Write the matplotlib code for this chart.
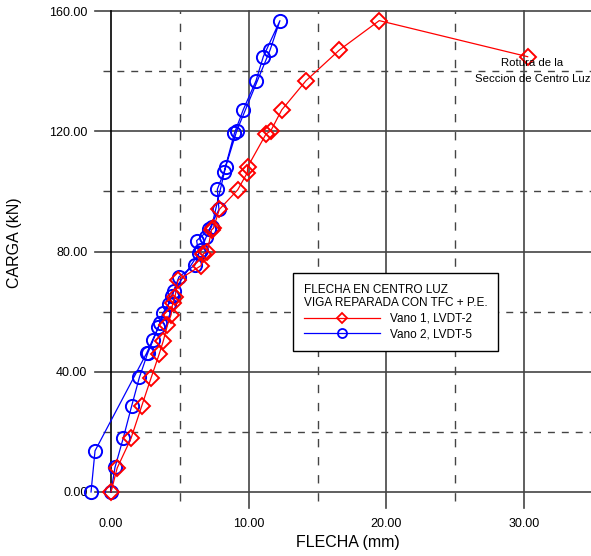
import matplotlib
matplotlib.use("Agg")
import matplotlib.pyplot as plt
from matplotlib.lines import Line2D

plt.rcParams["font.family"] = ["Liberation Sans", "DejaVu Sans"]

# Vano 1, LVDT-2 (deflection mm, load kN)
vano1_flecha = [0.0, 0.45, 1.45, 2.23, 2.9, 3.5, 3.8, 4.1, 4.36, 4.48, 4.65, 4.87,
                6.54, 6.7, 7.0, 7.3, 7.43, 7.87, 9.2, 9.9, 9.93, 11.26, 11.6, 12.4,
                14.16, 16.58, 19.48, 30.26]
vano1_carga = [0.0, 8.0, 17.8, 28.6, 37.8, 45.9, 50.3, 55.5, 58.9, 62.8, 65.0, 70.5,
               75.3, 79.2, 80.0, 87.2, 87.7, 94.0, 100.5, 106.2, 108.2, 119.1, 120.1, 127.1,
               136.8, 147.0, 156.8, 144.8]

# Vano 2, LVDT-5
vano2_flecha = [0.0, 0.29, 0.9, 1.5, 2.06, 2.66, 3.07, 3.44, 3.75, 4.2, 4.4, 4.94,
                6.1, 6.37, 6.22, 7.14, 7.84, 7.72, 8.2, 8.96, 9.6, 10.53, 11.06, 12.27,
                11.55, 9.13, 8.33, 7.31, 6.9, 6.54, 4.58, 3.56, 2.6, -1.16, -1.45]
vano2_carga = [0.0, 8.2, 18.1, 28.6, 38.1, 46.1, 50.6, 54.8, 59.4, 62.5, 65.2, 71.6,
               75.5, 79.4, 83.6, 87.4, 94.0, 100.7, 106.3, 119.3, 127.1, 136.8, 144.8, 156.8,
               147.0, 120.1, 108.2, 88.3, 84.7, 80.5, 66.9, 56.1, 46.3, 13.7, 0.0]

x_major = [0, 10, 20, 30]
x_minor = [5, 15, 25]
y_major = [0, 40, 80, 120, 160]
y_minor = [20, 60, 100, 140]

XMAX = 34.86
fig = plt.figure(figsize=(5.91, 5.56), dpi=100)
ax = fig.add_axes([111 / 591, 64 / 556, 480 / 591, 481 / 556])
ax.set_xlim(0, XMAX)
ax.set_ylim(0, 160)
for s in ax.spines.values():
    s.set_visible(False)

grid_col = "#444444"
# solid and dashed grid lines, extended a little beyond the axes like the original
for y in y_major:
    ax.plot([-1.16, XMAX], [y, y], color=grid_col, lw=1.2, clip_on=False, zorder=1)
for y in y_minor:
    ax.plot([-0.58, XMAX], [y, y], color=grid_col, lw=1.0, dashes=(5, 5), clip_on=False, zorder=1)
ax.plot([0, 0], [0, 160], color="black", lw=1.2, clip_on=False, zorder=1)
for x in x_major[1:]:
    ax.plot([x, x], [-5.3, 160], color=grid_col, lw=1.2, clip_on=False, zorder=1)
for x in x_minor:
    ax.plot([x, x], [-3.0, 160], color=grid_col, lw=1.0, dashes=(6, 7), clip_on=False, zorder=1)

ax.set_xticks(x_major)
ax.set_xticklabels([f"{v:.2f}" for v in x_major])
ax.set_yticks(y_major)
ax.set_yticklabels([f"{v:.2f}" for v in y_major])
ax.tick_params(length=0, labelsize=9)
ax.tick_params(axis="x", pad=19)
ax.tick_params(axis="y", pad=17)

ax.plot(vano2_flecha, vano2_carga, color="blue", lw=0.9, marker="o", ms=9.5,
        mfc="none", mec="blue", mew=1.4, clip_on=False, zorder=3)
ax.plot(vano1_flecha, vano1_carga, color="red", lw=0.9, marker="D", ms=8,
        mfc="none", mec="red", mew=1.4, clip_on=False, zorder=4)

# failure note; nudged left a touch so the last word stays inside the figure
ax.text(30.6, 142.6, "Rotura de la", ha="center", va="center", fontsize=8.2, zorder=5)
ax.text(30.6, 137.4, "Seccion de Centro Luz", ha="center", va="center", fontsize=8.2,
        zorder=5, clip_on=False)

handles = [
    Line2D([], [], color="red", lw=0.9, marker="D", ms=5.5, mfc="none", mec="red", mew=1.3),
    Line2D([], [], color="blue", lw=0.9, marker="o", ms=6.5, mfc="none", mec="blue", mew=1.3),
]
leg = ax.legend(handles, ["Vano 1, LVDT-2", "Vano 2, LVDT-5"],
                title="FLECHA EN CENTRO LUZ\nVIGA REPARADA CON TFC + P.E.",
                loc="upper left", bbox_to_anchor=(293 / 591, 1 - 273 / 556),
                bbox_transform=fig.transFigure, borderaxespad=0,
                fontsize=8.5, title_fontsize=8.5,
                frameon=True, fancybox=False, edgecolor="black", framealpha=1,
                handlelength=6.5, handletextpad=0.8, labelspacing=0.3,
                borderpad=0.9, alignment="left")
leg.get_frame().set_linewidth(1.0)
leg.set_zorder(6)

fig.text(15 / 591, 1 - 243 / 556, "CARGA (kN)", rotation=90, ha="center", va="center",
         fontsize=11.5)
fig.text(348 / 591, 1 - 543 / 556, "FLECHA (mm)", ha="center", va="center", fontsize=11.5)

fig.savefig("out.png", dpi=100)
